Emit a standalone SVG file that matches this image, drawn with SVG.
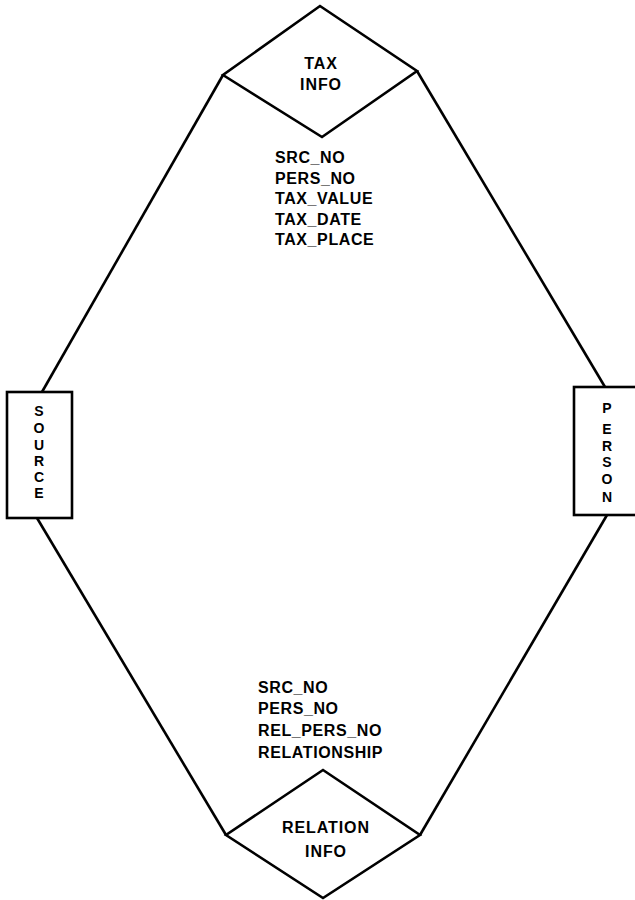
<svg xmlns="http://www.w3.org/2000/svg" width="635" height="900" viewBox="0 0 635 900">
<style>
.ln{fill:none;stroke:#000;stroke-width:2.6;stroke-linejoin:miter}
.sh{fill:#fff;stroke:#000;stroke-width:2.6}
.t{font-family:"Liberation Sans",Arial,sans-serif;font-weight:bold;font-size:16px;letter-spacing:0.6px;fill:#000}
.h{font-size:16px;letter-spacing:0.9px}
.v{font-size:14px;letter-spacing:0}
.c{text-anchor:middle}
</style>
<rect width="635" height="900" fill="#fff"/>
<g id="connectors">
<line class="ln" x1="223" y1="75" x2="42" y2="392"/>
<line class="ln" x1="417" y1="71" x2="605" y2="387"/>
<line class="ln" x1="37" y1="518" x2="226" y2="835"/>
<line class="ln" x1="607" y1="515" x2="420" y2="835"/>
</g>
<g id="tax-info">
<polygon class="sh" points="320,6 417,71 322,137 223,75"/>
<text class="t h c" x="321" y="69">TAX</text>
<text class="t h c" x="321" y="90">INFO</text>
<text class="t" x="275" y="163">SRC_NO</text>
<text class="t" x="275" y="184">PERS_NO</text>
<text class="t" x="275" y="204">TAX_VALUE</text>
<text class="t" x="275" y="225">TAX_DATE</text>
<text class="t" x="275" y="245">TAX_PLACE</text>
</g>
<g id="source">
<rect class="sh" x="7" y="392" width="65" height="126"/>
<text class="t v c" x="39" y="416">S</text>
<text class="t v c" x="39" y="433">O</text>
<text class="t v c" x="39" y="450">U</text>
<text class="t v c" x="39" y="466">R</text>
<text class="t v c" x="39" y="482">C</text>
<text class="t v c" x="39" y="498">E</text>
</g>
<g id="person">
<rect class="sh" x="574" y="387" width="70" height="128"/>
<text class="t v c" x="607" y="413">P</text>
<text class="t v c" x="607" y="434">E</text>
<text class="t v c" x="607" y="451">R</text>
<text class="t v c" x="607" y="467">S</text>
<text class="t v c" x="607" y="484">O</text>
<text class="t v c" x="607" y="502">N</text>
</g>
<g id="relation-info">
<polygon class="sh" points="323,770 420,835 323,898 226,835"/>
<text class="t h c" x="326" y="833">RELATION</text>
<text class="t h c" x="326" y="857">INFO</text>
<text class="t" x="258" y="693">SRC_NO</text>
<text class="t" x="258" y="714">PERS_NO</text>
<text class="t" x="258" y="736">REL_PERS_NO</text>
<text class="t" x="258" y="758">RELATIONSHIP</text>
</g>
</svg>
